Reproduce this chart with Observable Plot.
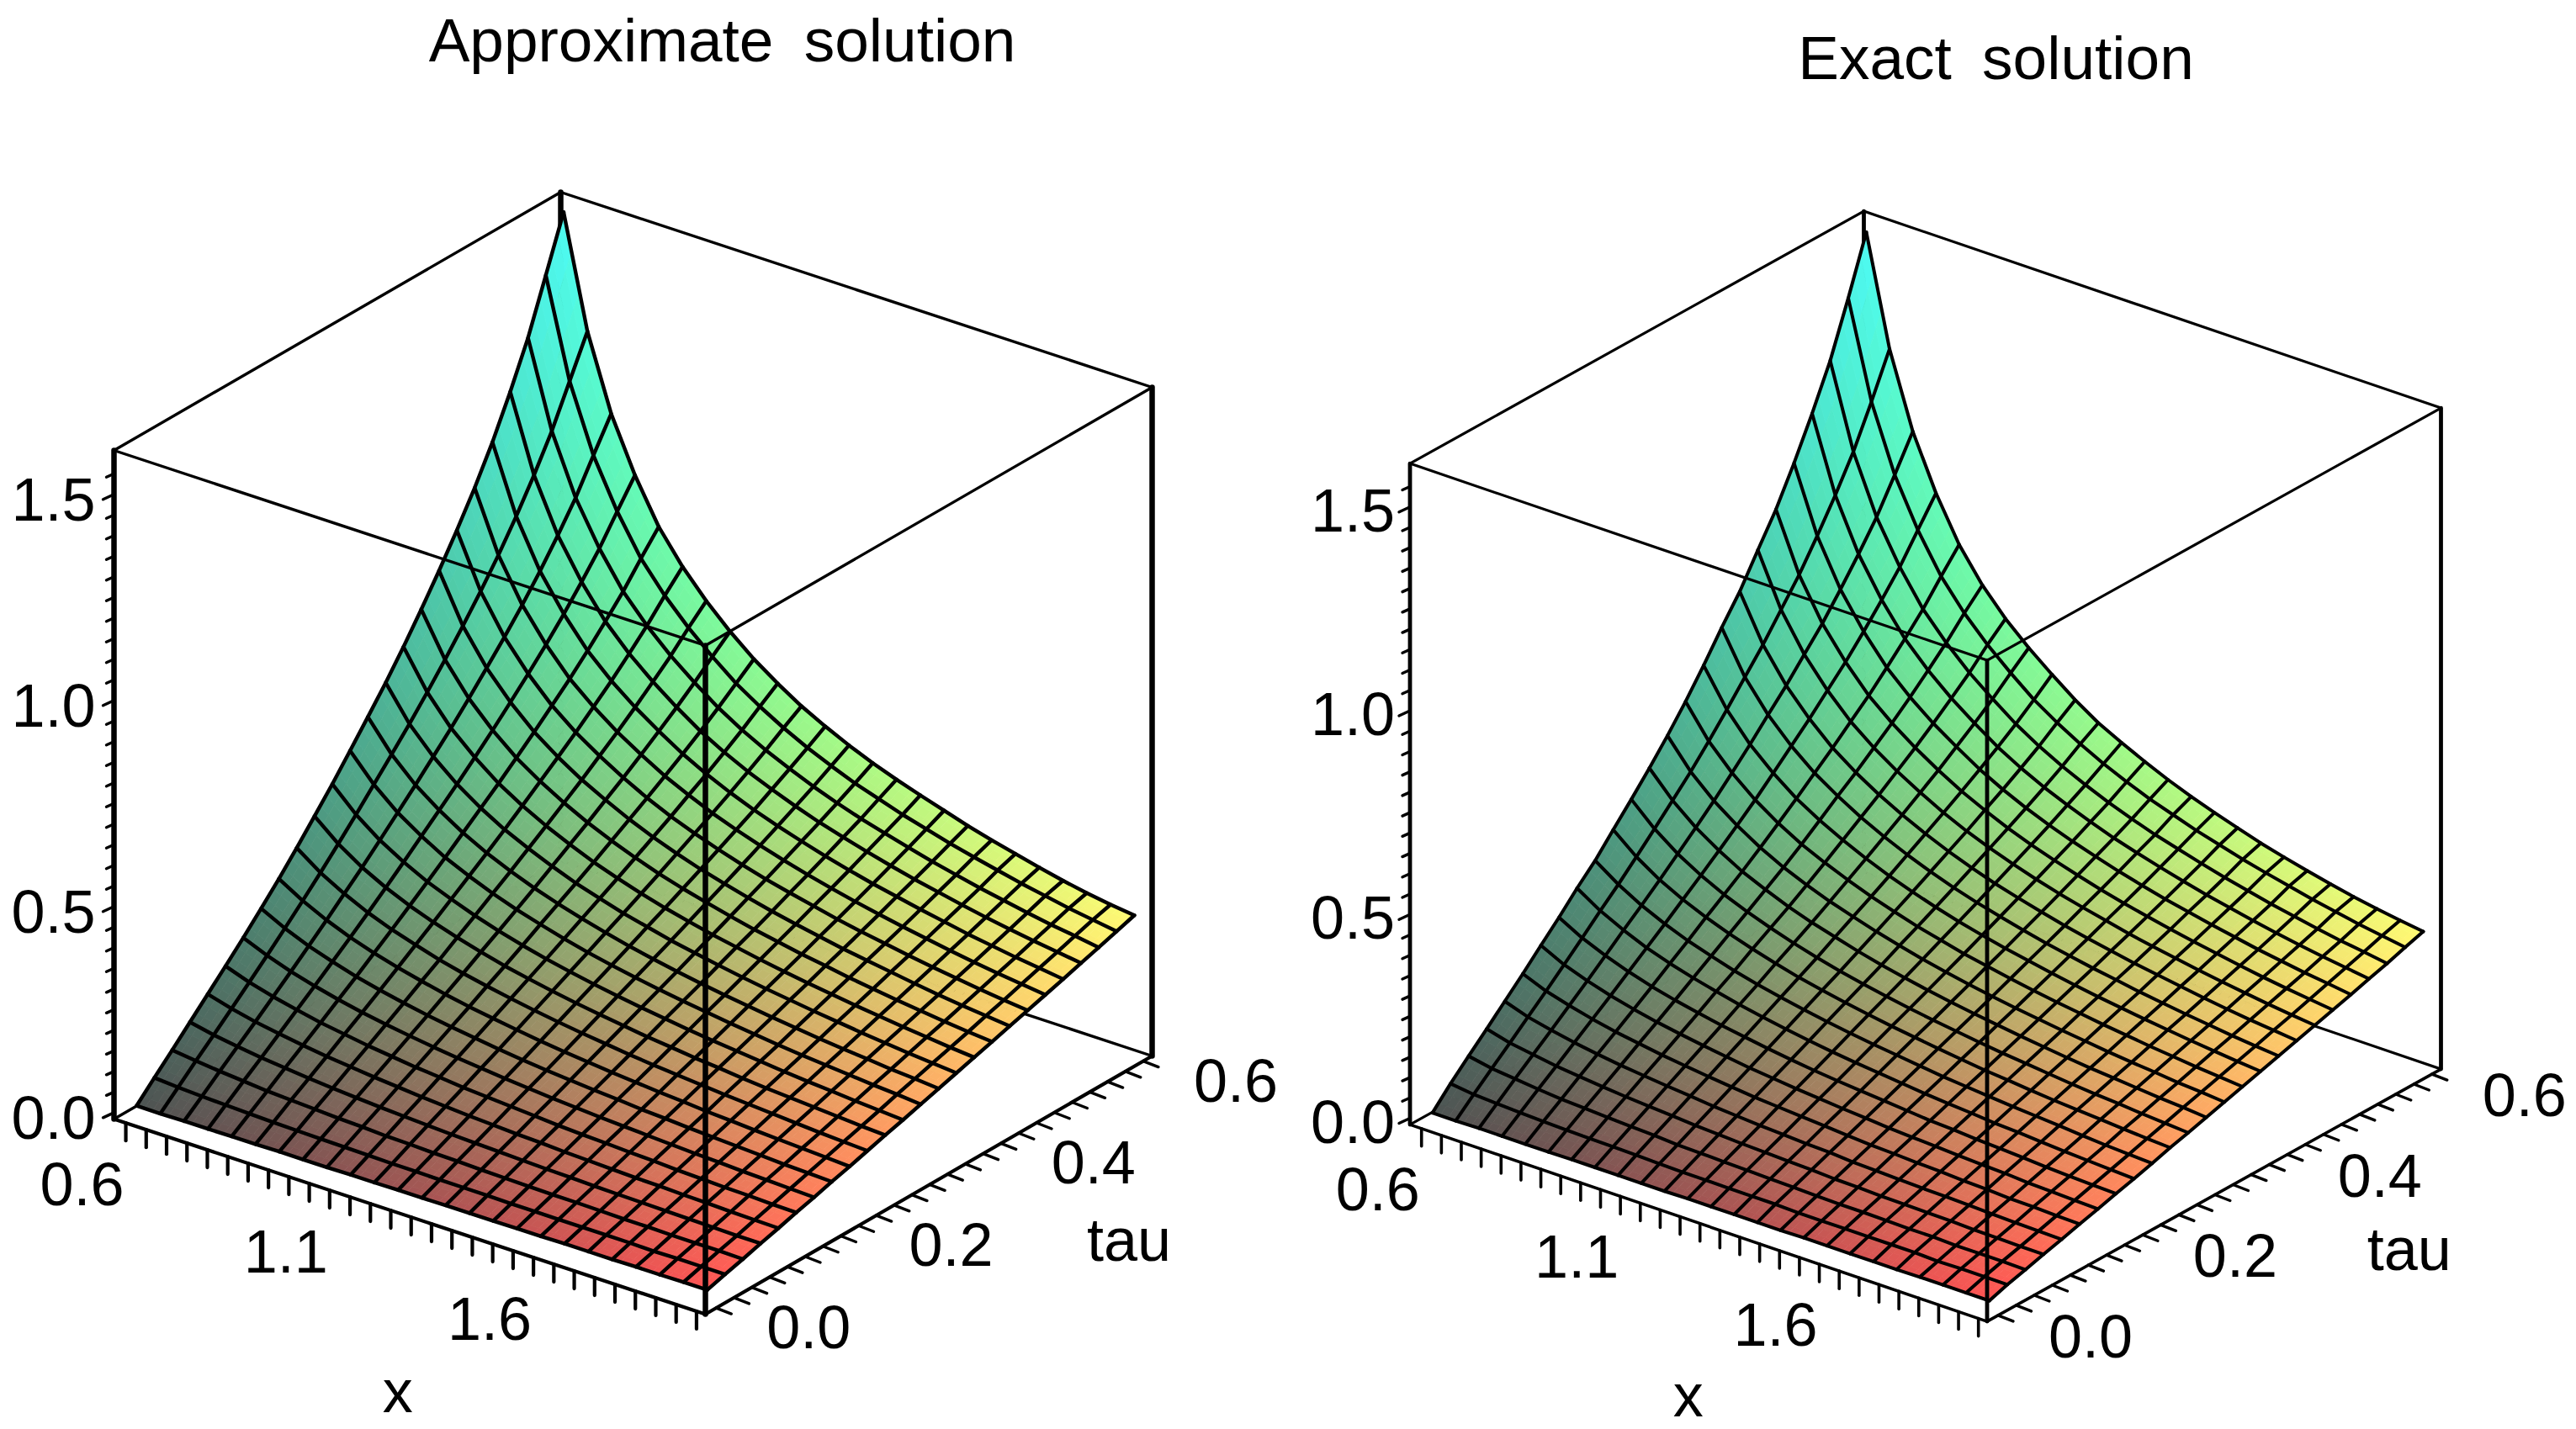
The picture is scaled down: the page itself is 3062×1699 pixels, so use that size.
<!DOCTYPE html>
<html>
<head>
<meta charset="utf-8">
<title>Approximate and exact solution</title>
<script src="https://cdn.jsdelivr.net/npm/d3@7"></script>
<script src="https://cdn.jsdelivr.net/npm/@observablehq/plot@0.6"></script>
<style>
html,body{margin:0;padding:0;background:#fff;}
#page{display:flex;width:3062px;height:1699px;overflow:hidden;}
#page svg{display:block;}
</style>
</head>
<body>
<div id="page"></div>
<script>
// Surface heights: one row per tau value, one column per x value.
// Edge vertices were measured on zoomed crops of the reference. Interior vertices
// are too dense to read individually: they are hand estimates consistent with those edges.
const xValues = [.6,.6583,.7167,.775,.8333,.8917,.95,1.0083,1.0667,1.125,1.1833,1.2417,1.3,1.3583,1.4167,1.475,1.5333,1.5917,1.65,1.7083,1.7667,1.825,1.8833,1.9417,2];
const tauValues = [0,.025,.05,.075,.1,.125,.15,.175,.2,.225,.25,.275,.3,.325,.35,.375,.4,.425,.45,.475,.5,.525,.55,.575,.6];
const zApprox = [
[.011,.011,.012,.012,.013,.013,.014,.014,.014,.015,.015,.016,.016,.017,.017,.017,.018,.018,.019,.019,.019,.020,.020,.021,.021],
[.054,.050,.047,.045,.043,.041,.040,.039,.038,.037,.036,.036,.035,.035,.035,.034,.034,.034,.034,.034,.034,.033,.034,.034,.034],
[.096,.089,.083,.078,.073,.070,.067,.064,.062,.059,.058,.056,.055,.053,.052,.051,.050,.050,.049,.048,.048,.047,.047,.047,.046],
[.139,.127,.118,.110,.104,.098,.093,.089,.085,.082,.079,.076,.074,.072,.070,.068,.067,.065,.064,.063,.062,.061,.060,.059,.059],
[.182,.166,.153,.143,.134,.126,.120,.114,.109,.104,.100,.096,.093,.090,.088,.085,.083,.081,.079,.078,.076,.075,.073,.072,.071],
[.225,.205,.189,.176,.164,.155,.146,.139,.132,.127,.121,.117,.113,.109,.105,.102,.100,.097,.095,.092,.090,.088,.087,.085,.084],
[.269,.245,.225,.209,.195,.183,.173,.164,.156,.149,.143,.137,.132,.127,.123,.119,.116,.113,.110,.107,.105,.102,.100,.098,.096],
[.315,.286,.262,.243,.226,.212,.200,.189,.180,.172,.164,.157,.151,.146,.141,.137,.132,.129,.125,.122,.119,.116,.113,.111,.109],
[.362,.328,.300,.277,.258,.242,.228,.215,.204,.195,.186,.178,.171,.165,.159,.154,.149,.145,.140,.137,.133,.130,.127,.124,.121],
[.412,.371,.339,.312,.290,.272,.255,.241,.229,.218,.208,.199,.191,.184,.177,.171,.166,.161,.156,.152,.148,.144,.140,.137,.134],
[.464,.416,.378,.348,.323,.302,.284,.268,.253,.241,.230,.220,.211,.203,.195,.189,.182,.177,.171,.166,.162,.158,.154,.150,.147],
[.517,.462,.419,.385,.356,.333,.312,.294,.278,.264,.252,.241,.231,.222,.214,.206,.199,.193,.187,.181,.176,.172,.167,.163,.159],
[.573,.510,.461,.423,.390,.364,.341,.321,.304,.288,.274,.262,.251,.241,.232,.224,.216,.209,.202,.196,.191,.186,.181,.177,.172],
[.630,.558,.503,.461,.425,.395,.370,.348,.329,.312,.297,.283,.271,.260,.250,.241,.233,.225,.218,.211,.205,.200,.194,.190,.185],
[.688,.607,.547,.499,.460,.427,.400,.376,.354,.336,.319,.305,.291,.280,.269,.259,.250,.242,.234,.227,.220,.214,.208,.203,.198],
[.750,.659,.591,.539,.495,.460,.430,.404,.380,.360,.342,.326,.312,.299,.288,.277,.267,.258,.250,.242,.235,.228,.222,.216,.211],
[.816,.713,.638,.580,.532,.494,.461,.432,.407,.385,.365,.348,.333,.319,.306,.295,.284,.275,.265,.257,.249,.242,.235,.229,.224],
[.885,.770,.687,.623,.570,.528,.492,.462,.434,.410,.389,.370,.354,.339,.325,.313,.302,.291,.282,.273,.264,.256,.249,.243,.237],
[.958,.829,.737,.667,.609,.563,.525,.491,.461,.435,.413,.393,.375,.359,.345,.332,.319,.308,.298,.288,.279,.271,.263,.256,.250],
[1.036,.892,.790,.713,.649,.600,.558,.522,.489,.462,.437,.416,.397,.380,.364,.350,.337,.325,.314,.304,.294,.285,.277,.270,.263],
[1.122,.961,.847,.762,.692,.638,.593,.554,.518,.488,.462,.439,.419,.401,.384,.369,.355,.343,.331,.320,.309,.300,.291,.284,.276],
[1.219,1.036,.909,.815,.738,.679,.630,.587,.548,.516,.488,.464,.442,.422,.405,.389,.374,.360,.348,.336,.325,.315,.306,.298,.290],
[1.325,1.118,.975,.871,.786,.722,.668,.622,.580,.545,.515,.489,.465,.444,.425,.409,.393,.378,.365,.352,.341,.330,.320,.312,.303],
[1.452,1.214,1.053,.936,.841,.770,.711,.660,.614,.577,.544,.515,.490,.467,.448,.429,.413,.397,.383,.370,.357,.346,.335,.326,.317],
[1.58,1.31,1.129,.999,.893,.815,.751,.696,.648,.608,.572,.542,.515,.491,.470,.451,.433,.415,.399,.385,.371,.358,.347,.338,.331]
];
const zExact = [
[.008,.008,.009,.009,.009,.009,.010,.010,.010,.010,.010,.011,.011,.011,.011,.011,.012,.012,.012,.012,.012,.013,.013,.013,.013],
[.055,.048,.045,.042,.040,.038,.037,.036,.035,.033,.032,.032,.031,.031,.031,.029,.029,.029,.029,.029,.029,.027,.028,.028,.028],
[.098,.087,.081,.075,.070,.067,.064,.061,.059,.055,.054,.052,.051,.049,.048,.046,.045,.045,.044,.043,.043,.041,.041,.041,.040],
[.140,.125,.116,.107,.101,.095,.090,.086,.082,.078,.075,.072,.070,.068,.066,.063,.062,.060,.059,.058,.057,.055,.054,.053,.053],
[.183,.164,.151,.140,.131,.123,.117,.111,.106,.100,.096,.092,.089,.086,.084,.080,.078,.076,.074,.073,.071,.069,.067,.066,.065],
[.226,.203,.187,.173,.161,.152,.143,.136,.129,.123,.117,.113,.109,.105,.101,.097,.095,.092,.090,.087,.085,.082,.081,.079,.078],
[.271,.243,.223,.206,.192,.180,.170,.161,.153,.145,.139,.133,.128,.123,.119,.114,.111,.108,.105,.102,.100,.096,.094,.092,.090],
[.315,.284,.260,.240,.223,.209,.197,.186,.177,.168,.160,.153,.147,.142,.137,.132,.127,.124,.120,.117,.114,.110,.107,.105,.103],
[.362,.326,.298,.274,.255,.239,.225,.212,.201,.191,.182,.174,.167,.161,.155,.149,.144,.140,.135,.132,.128,.124,.121,.118,.115],
[.405,.366,.334,.308,.286,.268,.251,.237,.225,.214,.204,.195,.187,.180,.173,.166,.161,.156,.151,.147,.143,.138,.134,.131,.128],
[.456,.409,.372,.343,.319,.298,.280,.264,.249,.237,.226,.216,.207,.199,.191,.184,.177,.172,.166,.161,.157,.153,.149,.145,.142],
[.506,.453,.411,.378,.350,.327,.307,.289,.273,.259,.247,.236,.226,.217,.209,.201,.194,.188,.182,.176,.171,.167,.162,.158,.154],
[.558,.498,.451,.414,.382,.357,.334,.315,.299,.283,.269,.257,.246,.236,.227,.219,.211,.204,.197,.191,.186,.181,.176,.172,.167],
[.613,.544,.492,.451,.416,.387,.363,.342,.324,.307,.292,.278,.266,.255,.245,.236,.228,.220,.213,.206,.200,.195,.189,.185,.180],
[.672,.594,.536,.489,.451,.419,.393,.370,.349,.331,.314,.300,.286,.275,.264,.254,.245,.237,.229,.222,.215,.209,.203,.198,.193],
[.736,.647,.581,.530,.487,.453,.424,.398,.375,.355,.337,.321,.307,.294,.283,.272,.262,.253,.245,.237,.230,.223,.217,.211,.206],
[.804,.702,.629,.572,.525,.488,.455,.427,.402,.380,.360,.343,.328,.314,.301,.290,.279,.270,.260,.252,.244,.237,.230,.224,.219],
[.868,.757,.676,.614,.562,.521,.486,.456,.429,.405,.384,.365,.349,.334,.320,.308,.297,.286,.277,.268,.259,.251,.244,.238,.232],
[.945,.818,.728,.659,.602,.557,.519,.486,.456,.430,.408,.388,.370,.354,.340,.327,.314,.303,.293,.283,.274,.266,.258,.251,.245],
[1.020,.879,.779,.704,.641,.593,.552,.516,.484,.457,.432,.411,.392,.375,.359,.345,.332,.320,.309,.299,.289,.280,.272,.265,.258],
[1.109,.950,.838,.754,.685,.632,.587,.549,.513,.483,.457,.434,.414,.396,.379,.364,.350,.338,.326,.315,.304,.295,.286,.279,.271],
[1.206,1.025,.900,.807,.731,.673,.624,.582,.543,.511,.483,.459,.437,.417,.400,.384,.369,.355,.343,.331,.320,.310,.301,.293,.285],
[1.311,1.107,.966,.863,.779,.716,.662,.617,.575,.540,.510,.484,.460,.439,.420,.404,.388,.373,.360,.347,.336,.325,.315,.307,.298],
[1.440,1.205,1.045,.929,.835,.764,.706,.656,.610,.573,.540,.511,.486,.463,.444,.425,.409,.393,.379,.366,.353,.342,.331,.322,.313],
[1.577,1.31,1.127,.995,.888,.808,.745,.693,.647,.604,.567,.538,.511,.486,.464,.444,.426,.408,.393,.379,.366,.354,.344,.335,.327]
];
const xTickLabels = ["0.6","1.1","1.6"];
const tauTickLabels = ["0.0","0.2","0.4","0.6"];
const zTickLabels = ["0.0","0.5","1.0","1.5"];
const xMinorTicks = d3.range(0,29).map(k => +(0.6 + k*0.05).toFixed(2));
const tauMinorTicks = d3.range(0,25).map(k => +(k*0.025).toFixed(3));
const zMinorTicks = d3.range(0,32).map(k => +(k*0.05).toFixed(2));

// Axis box limits, in data units
const xBox = [0.571, 2.0218], tauBox = [-0.0151, 0.6125], zBox = [-0.0156, 1.6065];

// Layout of the two panels: the oblique view of each 3D box, in page pixels
const panels = [
  {title:"Approximate solution", z:zApprox, left:0, titleX:858, titleY:49,
   A:[135,1330], u:[703,232], v:[531,-307], w:795,
   gridW:4.4, thinW:3.4, thickW:6.5, baseW:4.2, tickW:4.2,
   xLab:[-52,75], xName:[-16,209], zLab:[-22,8], tauLab:[110,25], tauName:[237,68]},
  {title:"Exact solution", z:zExact, left:1531, titleX:2372, titleY:70,
   A:[1675.5,1336.6], u:[686,234], v:[539.5,-300], w:786,
   gridW:4, thinW:3.2, thickW:4.8, baseW:3.6, tickW:3.6,
   xLab:[-52,74], xName:[-14,206], zLab:[-18,6], tauLab:[110,27], tauName:[231,66]}
];
const font = "Liberation Sans, Arial, sans-serif";

function drawPanel(p) {
  const project = (x, t, z) => {
    const a = (x-xBox[0])/(xBox[1]-xBox[0]), b = (t-tauBox[0])/(tauBox[1]-tauBox[0]), c = (z-zBox[0])/(zBox[1]-zBox[0]);
    return [p.A[0]+p.u[0]*a+p.v[0]*b, p.A[1]+p.u[1]*a+p.v[1]*b-p.w*c];
  };
  const fillOf = (x,t,z) => d3.rgb(
    255*(0.30+0.70*(x-0.6)/1.4),
    255*(0.33+0.65*t/0.6),
    255*Math.min(1,0.32+0.65*z/1.6)).formatHex();

  // shaded patches, each grid cell split so the colour runs smoothly across it
  const sub = 3, patches = [];
  const lerp = (a,b,s) => a+(b-a)*s;
  for (let j=0;j<tauValues.length-1;j++) for (let i=0;i<xValues.length-1;i++) {
    const val = (s,r) => {
      const z = lerp(lerp(p.z[j][i],p.z[j][i+1],s),lerp(p.z[j+1][i],p.z[j+1][i+1],s),r);
      return [lerp(xValues[i],xValues[i+1],s),lerp(tauValues[j],tauValues[j+1],r),z];
    };
    for (let m=0;m<sub;m++) for (let n=0;n<sub;n++) {
      const s0=m/sub,s1=(m+1)/sub,r0=n/sub,r1=(n+1)/sub;
      const ring=[val(s0,r0),val(s1,r0),val(s1,r1),val(s0,r1),val(s0,r0)].map(q=>project(...q));
      const c=val((s0+s1)/2,(r0+r1)/2);
      patches.push({type:"Feature",properties:{fill:fillOf(...c)},geometry:{type:"Polygon",coordinates:[ring]}});
    }
  }

  // grid lines
  const gridPts=[];
  tauValues.forEach((t,j)=>xValues.forEach((x,i)=>{const q=project(x,t,p.z[j][i]);gridPts.push({px:q[0],py:q[1],line:"t"+j});}));
  xValues.forEach((x,i)=>tauValues.forEach((t,j)=>{const q=project(x,t,p.z[j][i]);gridPts.push({px:q[0],py:q[1],line:"x"+i});}));

  const [x0,x1]=xBox,[t0,t1]=tauBox,[z0,z1]=zBox;
  const seg=(a,b)=>{const P=project(...a),Q=project(...b);return {x1:P[0],y1:P[1],x2:Q[0],y2:Q[1]};};
  const link=(data,w)=>Plot.link(data,{x1:"x1",y1:"y1",x2:"x2",y2:"y2",stroke:"#000",strokeWidth:w,strokeLinecap:"round",markerEnd:"none"});

  const hiddenThin=[seg([x0,t1,z0],[x0,t0,z0]),seg([x0,t1,z0],[x1,t1,z0])];
  const hiddenThick=[seg([x0,t1,z0],[x0,t1,z1])];
  const topEdges=[seg([x0,t0,z1],[x1,t0,z1]),seg([x1,t0,z1],[x1,t1,z1]),seg([x0,t0,z1],[x0,t1,z1]),seg([x0,t1,z1],[x1,t1,z1])];
  const verticals=[seg([x0,t0,z0],[x0,t0,z1]),seg([x1,t0,z0],[x1,t0,z1]),seg([x1,t1,z0],[x1,t1,z1])];
  const baseEdges=[seg([x0,t0,z0],[x1,t0,z0]),seg([x1,t0,z0],[x1,t1,z0])];

  const off=(q,d)=>({x1:q[0],y1:q[1],x2:q[0]+d[0],y2:q[1]+d[1]});
  const xAt=x=>project(x,t0,z0), tauAt=t=>project(x1,t,z0), zAt=z=>project(x0,t0,z);
  const xTicks=xMinorTicks.map(x=>off(xAt(x),[0,21]));
  const tauTicks=tauMinorTicks.map(t=>off(tauAt(t),[18,7]));
  const zTicks=zMinorTicks.filter(z=>z<=1.56).map(z=>{
    const major=Math.abs(z*2-Math.round(z*2))<1e-6;
    return off(zAt(z),major?[-13,6]:[-9,4]);
  });

  const label=(data,anchor,d)=>Plot.text(data,{x:"px",y:"py",text:"s",dx:d[0],dy:d[1],textAnchor:anchor,fill:"#000",fontSize:72,fontFamily:font,lineAnchor:"middle"});
  const lab=(s,q)=>({s,px:q[0],py:q[1]});

  return Plot.plot({
    width:1531,height:1699,margin:0,
    x:{domain:[p.left,p.left+1531],range:[0,1531],axis:null},
    y:{domain:[0,1699],range:[0,1699],axis:null},
    color:{type:"identity"},
    style:{background:"#fff",wordSpacing:"16px",overflow:"visible"},
    marks:[
      link(hiddenThin,p.thinW),
      link(hiddenThick,p.thickW),
      Plot.geo(patches,{fill:d=>d.properties.fill,stroke:d=>d.properties.fill,strokeWidth:0.8}),
      Plot.line(gridPts,{x:"px",y:"py",z:"line",stroke:"#000",strokeWidth:p.gridW,strokeLinejoin:"round",curve:"linear"}),
      link(topEdges,p.thinW),
      link(baseEdges,p.baseW),
      link(verticals,p.thickW),
      link(xTicks,p.tickW),
      link(tauTicks,3.4),
      link(zTicks,3.4),
      label(xTickLabels.map(s=>lab(s,xAt(+s))),"middle",p.xLab),
      label(tauTickLabels.map(s=>lab(s,tauAt(+s))),"middle",p.tauLab),
      label(zTickLabels.map(s=>lab(s,zAt(+s))),"end",p.zLab),
      label([lab("x",xAt(1.3))],"middle",p.xName),
      label([lab("tau",tauAt(0.3))],"middle",p.tauName),
      Plot.text([{s:p.title,px:p.titleX,py:p.titleY}],{x:"px",y:"py",text:"s",textAnchor:"middle",fill:"#000",fontSize:73,fontFamily:font,lineAnchor:"middle"})
    ]
  });
}
const page=document.getElementById("page");
panels.forEach(p=>page.appendChild(drawPanel(p)));
</script>
</body>
</html>
